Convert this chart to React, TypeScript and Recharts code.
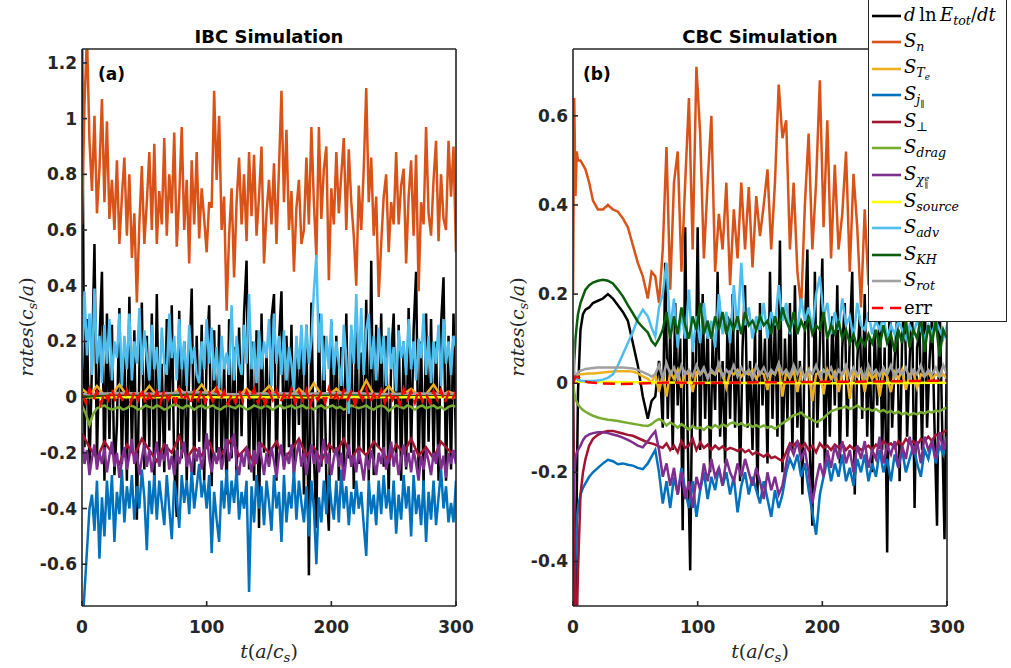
import React from "react";
import { LineChart, Line, XAxis, YAxis } from "recharts";

// ---- time bases ----
const IBC_STEP_FINE = 2; // t = 0, 2, ..., 300
const IBC_STEP = 3; // t = 0, 3, ..., 300
const IBC_STEP_COARSE = 6; // t = 0, 6, ..., 300
const tCbcEarly = [0, 1, 2, 3, 4, 6, 8, 10, 13, 16, 20, 24, 28, 32, 36, 40, 44, 48, 52, 56, 60, 63, 66, 69];
const tCbcLate = Array.from({ length: 77 }, (_, i) => 72 + 3 * i); // 72, 75, ..., 300
const tCbcFine = Array.from({ length: 116 }, (_, i) => 70 + 2 * i); // 70, 72, ..., 300
const tCbc = [...tCbcEarly, ...tCbcLate];

const tTicks = [0, 100, 200, 300];
const ibcYTicks = [-0.6, -0.4, -0.2, 0, 0.2, 0.4, 0.6, 0.8, 1, 1.2];
const cbcYTicks = [-0.4, -0.2, 0, 0.2, 0.4, 0.6];

// ---- IBC simulation (panel a) ----
const ibcDlnE = [ // step 2
  1.3, -0.18, 0.28, -0.26, 0.12, 0.55, -0.22, 0.2, 0.45, -0.3,
  0.3, -0.15, 0.26, -0.28, -0.1, 0.32, -0.24, 0.18, -0.3, 0.36,
  -0.2, 0.24, -0.44, 0.1, 0.34, -0.26, 0.22, -0.18, 0.3, -0.32,
  0.37, -0.2, 0.12, -0.27, 0.28, -0.12, 0.33, -0.25, -0.43, 0.31,
  -0.22, 0.2, -0.3, 0.1, 0.39, -0.28, 0.22, -0.16, 0.26, -0.3,
  0.15, 0.33, -0.32, 0.24, -0.2, 0.26, -0.25, 0.12, -0.35, 0.28,
  -0.22, 0.18, -0.3, 0.25, -0.14, 0.3, 0.49, -0.26, 0.2, -0.3,
  0.24, -0.47, 0.3, -0.2, 0.16, -0.24, 0.28, 0.37, -0.3, 0.2,
  0.38, -0.25, 0.22, -0.18, 0.26, -0.28, 0.2, -0.1, 0.24, -0.35,
  0.26, -0.64, 0.34, -0.2, -0.47, 0.3, -0.25, 0.22, -0.3, -0.48,
  0.27, -0.2, 0.22, -0.3, 0.18, -0.26, 0.3, -0.22, 0.24, -0.33,
  0.28, -0.24, 0.16, -0.2, 0.35, -0.3, 0.49, -0.28, 0.26, -0.18,
  0.3, -0.25, 0.22, -0.36, 0.14, 0.3, -0.22, 0.26, -0.3, 0.2,
  -0.26, 0.32, -0.2, 0.24, 0.45, -0.28, 0.2, -0.32, 0.3, -0.16,
  0.28, -0.22, 0.2, -0.3, 0.26, 0.43, -0.3, 0.22, -0.26, 0.3,
  -0.2,
];
const ibcSn = [ // step 2
  0.62, 1.05, 1.3, 0.92, 0.74, 1.01, 0.66, 0.82, 1.07, 0.7,
  0.99, 0.64, 0.78, 0.6, 0.85, 0.55, 0.72, 0.86, 0.58, 0.8,
  0.5, 0.66, 0.34, 0.62, 0.83, 0.55, 0.7, 0.88, 0.6, 0.91,
  0.55, 0.74, 0.62, 0.93, 0.58, 0.8, 0.66, 0.95, 0.54, 0.72,
  0.97, 0.6, 0.78, 0.48, 0.85, 0.62, 0.88, 0.57, 0.75, 0.64,
  0.52, 0.7, 0.68, 1.1, 0.78, 1.01, 0.6, 0.72, 0.31, 0.58,
  0.75, 0.43, 0.7, 0.86, 0.62, 0.8, 0.56, 0.88, 0.65, 0.87,
  0.58, 0.72, 0.9, 0.48, 0.66, 0.78, 0.62, 0.84, 0.55, 0.82,
  1.1, 0.7, 0.96, 0.6, 0.74, 0.45, 0.68, 0.78, 0.55, 0.6,
  0.86, 0.62, 0.97, 0.7, 0.5, 0.97, 0.64, 0.82, 0.9, 0.42,
  0.75, 0.62, 0.88, 0.66, 0.8, 0.93, 0.6, 0.89, 0.7, 0.58,
  0.4, 0.76, 0.6, 0.82, 1.11, 0.7, 0.86, 0.58, 0.72, 0.36,
  0.55, 0.72, 0.8, 0.52, 0.7, 0.62, 0.88, 0.62, 0.76, 0.82,
  0.48, 0.72, 0.85, 0.58, 0.87, 0.38, 0.7, 0.62, 0.97, 0.66,
  0.58, 0.78, 0.92, 0.56, 0.8, 0.64, 0.6, 0.92, 0.72, 0.9,
  0.52,
];
const ibcTe = [ // step 6
  0.03, 0.005, 0.04, 0.005, 0.01, 0.045, 0.005, 0.01, 0.005, 0.04,
  0.005, 0.01, 0.005, 0.03, 0.005, 0.01, 0.045, 0.005, 0.035, 0.005,
  0.01, 0.005, 0.03, 0.005, 0.01, 0.04, 0.005, 0.01, 0.005, 0.03,
  0.005, 0.05, 0.01, 0.005, 0.03, 0.005, 0.01, 0.005, 0.06, 0.01,
  0.005, 0.04, 0.005, 0.01, 0.03, 0.005, 0.01, 0.045, 0.005, 0.02,
  0.01,
];
const ibcJpar = [ // step 2
  -0.85, -0.7, -0.55, -0.4, -0.35, -0.48, -0.3, -0.58, -0.36, -0.5,
  -0.3, -0.44, -0.28, -0.52, -0.34, -0.42, -0.26, -0.45, -0.32, -0.4,
  -0.28, -0.44, -0.32, -0.4, -0.26, -0.36, -0.55, -0.3, -0.42, -0.28,
  -0.44, -0.3, -0.38, -0.46, -0.28, -0.4, -0.51, -0.3, -0.36, -0.47,
  -0.28, -0.38, -0.3, -0.42, -0.26, -0.4, -0.32, -0.24, -0.36, -0.3,
  -0.4, -0.28, -0.56, -0.34, -0.44, -0.52, -0.3, -0.4, -0.26, -0.42,
  -0.3, -0.38, -0.26, -0.44, -0.34, -0.4, -0.3, -0.7, -0.32, -0.45,
  -0.28, -0.4, -0.32, -0.46, -0.3, -0.38, -0.48, -0.28, -0.4, -0.34,
  -0.52, -0.28, -0.45, -0.34, -0.4, -0.26, -0.44, -0.3, -0.38, -0.45,
  -0.32, -0.5, -0.3, -0.4, -0.6, -0.36, -0.45, -0.3, -0.42, -0.28,
  -0.38, -0.44, -0.3, -0.45, -0.26, -0.4, -0.32, -0.46, -0.34, -0.42,
  -0.3, -0.4, -0.34, -0.46, -0.57, -0.3, -0.42, -0.35, -0.46, -0.3,
  -0.42, -0.28, -0.4, -0.33, -0.44, -0.3, -0.49, -0.35, -0.44, -0.28,
  -0.4, -0.32, -0.5, -0.28, -0.42, -0.35, -0.46, -0.3, -0.52, -0.34,
  -0.44, -0.3, -0.46, -0.36, -0.26, -0.4, -0.32, -0.45, -0.38, -0.45,
  -0.3,
];
const ibcPerp = [ // step 6
  -0.13, -0.18, -0.22, -0.16, -0.2, -0.24, -0.17, -0.21, -0.15, -0.19,
  -0.23, -0.17, -0.2, -0.14, -0.22, -0.18, -0.21, -0.16, -0.23, -0.19,
  -0.15, -0.21, -0.18, -0.24, -0.17, -0.2, -0.16, -0.22, -0.19, -0.15,
  -0.21, -0.18, -0.23, -0.17, -0.2, -0.15, -0.22, -0.18, -0.21, -0.16,
  -0.19, -0.23, -0.17, -0.2, -0.15, -0.21, -0.18, -0.22, -0.16, -0.19,
  -0.21,
];
const ibcDrag = [ // step 3
  -0.03, -0.06, -0.1, -0.06, -0.04, -0.035, -0.03, -0.04, -0.045, -0.04,
  -0.035, -0.045, -0.04, -0.03, -0.035, -0.045, -0.04, -0.03, -0.035, -0.04,
  -0.03, -0.035, -0.045, -0.04, -0.03, -0.025, -0.035, -0.04, -0.03, -0.035,
  -0.045, -0.035, -0.03, -0.04, -0.035, -0.03, -0.04, -0.045, -0.035, -0.03,
  -0.035, -0.04, -0.03, -0.035, -0.045, -0.04, -0.03, -0.035, -0.04, -0.03,
  -0.035, -0.045, -0.035, -0.03, -0.04, -0.035, -0.03, -0.04, -0.035, -0.03,
  -0.04, -0.035, -0.045, -0.035, -0.03, -0.04, -0.035, -0.03, -0.04, -0.035,
  -0.045, -0.04, -0.03, -0.035, -0.04, -0.035, -0.03, -0.04, -0.045, -0.035,
  -0.03, -0.035, -0.05, -0.04, -0.03, -0.035, -0.04, -0.03, -0.035, -0.045,
  -0.035, -0.03, -0.04, -0.035, -0.03, -0.04, -0.035, -0.045, -0.035, -0.03,
  -0.035,
];
const ibcChi = [ // step 2
  -0.14, -0.24, -0.19, -0.28, -0.22, -0.17, -0.26, -0.2, -0.24, -0.18,
  -0.27, -0.21, -0.16, -0.25, -0.2, -0.29, -0.23, -0.18, -0.26, -0.21,
  -0.15, -0.24, -0.2, -0.28, -0.22, -0.17, -0.25, -0.19, -0.27, -0.22,
  -0.16, -0.25, -0.2, -0.23, -0.17, -0.26, -0.21, -0.28, -0.19, -0.24,
  -0.2, -0.16, -0.25, -0.21, -0.27, -0.19, -0.23, -0.18, -0.26, -0.21,
  -0.13, -0.22, -0.27, -0.2, -0.24, -0.18, -0.26, -0.21, -0.15, -0.23,
  -0.19, -0.13, -0.24, -0.28, -0.2, -0.25, -0.18, -0.23, -0.27, -0.19,
  -0.24, -0.16, -0.22, -0.28, -0.2, -0.25, -0.18, -0.23, -0.29, -0.21,
  -0.17, -0.26, -0.2, -0.24, -0.17, -0.27, -0.21, -0.16, -0.25, -0.2,
  -0.28, -0.22, -0.17, -0.24, -0.19, -0.27, -0.21, -0.15, -0.24, -0.2,
  -0.28, -0.22, -0.18, -0.25, -0.2, -0.3, -0.22, -0.17, -0.25, -0.21,
  -0.27, -0.19, -0.24, -0.3, -0.21, -0.26, -0.19, -0.23, -0.28, -0.2,
  -0.24, -0.18, -0.26, -0.21, -0.16, -0.25, -0.2, -0.28, -0.22, -0.17,
  -0.25, -0.2, -0.27, -0.19, -0.24, -0.3, -0.21, -0.26, -0.19, -0.23,
  -0.28, -0.2, -0.24, -0.17, -0.26, -0.21, -0.29, -0.2, -0.24, -0.19,
  -0.24,
];
const ibcSource = [0, 0, 0, 0]; // step 100
const ibcAdv = [ // step 2
  0.1, 0.38, 0.15, 0.3, 0.08, 0.39, 0.12, 0.22, 0.05, 0.26,
  0.12, 0.28, 0.06, 0.2, 0.14, 0.3, 0.04, 0.22, 0.1, 0.3,
  0.06, 0.2, 0.12, 0.32, 0.08, 0.24, 0.15, 0.06, 0.26, 0.1,
  0.18, 0.02, 0.25, 0.12, 0.08, 0.3, 0.14, 0.22, 0.06, 0.28,
  0.1, 0.2, 0.04, 0.26, 0.12, 0.18, 0.08, 0.05, 0.2, 0.1,
  0.28, 0.12, 0.25, 0.06, 0.18, 0.03, 0.22, 0.1, 0.16, 0.08,
  0.33, 0.06, 0.22, 0.12, 0.08, 0.26, 0.12, 0.37, 0.1, 0.2,
  0.05, 0.24, 0.1, 0.2, 0.14, 0.28, 0.04, 0.3, 0.12, 0.22,
  0.08, 0.24, 0.06, 0.18, 0.12, 0.02, 0.22, 0.1, 0.26, 0.08,
  0.26, 0.12, 0.2, 0.38, 0.51, 0.16, 0.3, 0.06, 0.22, 0.1,
  0.28, 0.08, 0.2, 0.12, 0.04, 0.26, 0.14, -0.06, 0.26, 0.12,
  0.37, 0.1, 0.32, 0.08, 0.24, 0.3, 0.1, 0.22, 0.06, 0.25,
  0.12, 0.22, 0.04, 0.25, 0.1, 0.18, 0.02, 0.24, 0.14, 0.2,
  0.08, 0.28, 0.1, 0.2, 0.06, 0.21, 0.14, 0.3, 0.08, 0.22,
  0.05, 0.2, 0.12, 0.26, 0.04, 0.28, 0.12, 0.2, 0.08, 0.22,
  0.18,
];
const ibcKH = [0, 0.01, 0.005, 0.012, 0.008, 0.01, 0.006, 0.011, 0.007, 0.009, 0.008]; // step 30
const ibcRot = [0.01, 0.015, 0.012, 0.018, 0.01, 0.014, 0.012, 0.016, 0.011, 0.013, 0.012]; // step 30
const ibcErr = [ // step 3
  0.01, -0.02, 0.03, -0.01, 0.02, -0.025, 0.015, -0.01, 0.03, -0.02,
  0.01, -0.015, 0.025, -0.02, 0.02, -0.01, 0.03, -0.025, 0.01, -0.015,
  0.02, -0.02, 0.025, -0.01, 0.015, -0.02, 0.03, -0.015, 0.01, -0.025,
  0.02, -0.01, 0.025, -0.02, 0.015, -0.015, 0.03, -0.01, 0.02, -0.025,
  0.01, -0.02, 0.025, -0.015, 0.02, -0.01, 0.03, -0.02, 0.015, -0.025,
  0.02, -0.01, 0.025, -0.02, 0.01, -0.015, 0.03, -0.02, 0.02, -0.01,
  0.025, -0.03, 0.015, -0.01, 0.02, -0.02, 0.03, -0.015, 0.01, -0.02,
  0.025, -0.01, 0.02, -0.025, 0.015, -0.01, 0.03, -0.02, 0.01, -0.015,
  0.025, -0.02, 0.02, -0.01, 0.015, -0.025, 0.03, -0.01, 0.02, -0.02,
  0.025, -0.015, 0.01, -0.02, 0.02, -0.01, 0.025, -0.02, 0.015, -0.01,
  0.02,
];

// ---- CBC simulation (panel b) ----
const cbcDlnEEarly = [ // on tCbcEarly
  0, -0.4, -0.55, -0.25, -0.02, 0.12, 0.155, 0.165, 0.17, 0.18, 0.185, 0.19, 0.2, 0.19, 0.175, 0.16, 0.14, 0.09, 0.04, -0.03, -0.08, -0.04, -0.03, 0.05,
];
const cbcDlnEFine = [ // on tCbcFine
  0.02, -0.1, 0.27, -0.08, 0.12, -0.15, 0.18, -0.05, 0.1, -0.33,
  0.35, -0.12, -0.42, 0.08, -0.1, 0.35, -0.15, 0.2, -0.08, 0.14,
  -0.2, 0.1, -0.06, 0.25, -0.12, 0.05, -0.18, 0.15, -0.08, 0.2,
  -0.1, 0.12, -0.22, 0.08, 0.22, -0.1, 0.05, -0.15, 0.12, -0.25,
  0.18, -0.05, 0.1, -0.18, 0.25, -0.08, 0.15, -0.12, 0.32, -0.2,
  0.1, -0.08, 0.18, -0.15, 0.22, -0.1, 0.05, -0.25, 0.12, 0.3,
  -0.15, -0.32, 0.25, -0.1, 0.08, 0.28, -0.2, 0.1, -0.12, 0.15,
  -0.05, 0.22, -0.18, 0.08, 0.18, -0.12, 0.1, 0.25, -0.25, 0.05,
  0.15, -0.08, 0.2, -0.12, 0.1, -0.2, 0.12, -0.05, 0.18, -0.15,
  0.08, -0.38, 0.22, -0.1, 0.05, 0.15, -0.22, 0.1, 0.2, -0.12,
  0.05, 0.18, -0.28, 0.08, 0.12, -0.15, 0.22, -0.1, 0.05, 0.15,
  -0.1, -0.32, 0.2, -0.08, -0.35, 0.1,
];
const cbcSn = [
  0.2, 0.64, 0.42, 0.52, 0.5, 0.5, 0.49, 0.48, 0.45, 0.41, 0.39, 0.39, 0.4, 0.39, 0.385, 0.37, 0.35, 0.31, 0.27, 0.24, 0.19, 0.25, 0.24, 0.18,
  0.3, 0.53, 0.21, 0.45, 0.52, 0.25, 0.45, 0.64, 0.3, 0.71,
  0.56, 0.28, 0.45, 0.6, 0.25, 0.38, 0.3, 0.45, 0.22, 0.39,
  0.28, 0.45, 0.3, 0.44, 0.26, 0.42, 0.33, 0.4, 0.48, 0.3,
  0.45, 0.67, 0.55, 0.59, 0.3, 0.45, 0.25, 0.17, 0.4, 0.56,
  0.3, 0.45, 0.68, 0.35, 0.59, 0.28, 0.49, 0.3, 0.38, 0.52,
  0.25, 0.47, 0.35, 0.17, 0.39, 0.22, 0.35, 0.15, 0.3, 0.4,
  0.18, 0.33, 0.45, 0.2, 0.38, 0.12, 0.35, 0.42, 0.2, 0.36,
  0.15, 0.4, 0.25, 0.14, 0.38, 0.22, 0.3,
];
const cbcTe = [
  0, 0.01, 0.015, 0.018, 0.02, 0.02, 0.02, 0.021, 0.022, 0.022, 0.023, 0.024, 0.025, 0.026, 0.027, 0.027, 0.027, 0.026, 0.022, 0.015, 0.01, 0, 0.02, -0.02,
  0.02, -0.03, 0.025, 0.01, 0.03, -0.01, 0.025, 0.02, -0.02, 0.025,
  0.02, 0.03, 0.015, 0.025, 0.02, 0.03, 0.02, -0.01, 0.025, 0.02,
  0.03, 0.015, 0.025, 0.02, 0.03, 0.01, 0.025, 0.02, -0.015, 0.025,
  0.02, 0.04, -0.03, 0.025, 0.01, 0.03, -0.02, 0.025, 0.015, 0.03,
  -0.04, 0.02, 0.025, -0.025, 0.03, 0.01, 0.025, -0.02, 0.02, 0.03,
  -0.035, 0.025, 0.015, 0.03, -0.02, 0.025, 0.01, 0.02, -0.03, 0.025,
  0.015, -0.02, 0.025, 0.01, 0.03, -0.015, 0.02, 0.025, -0.01, 0.02,
  0.015, 0.025, 0.01, 0.02, 0.015, 0.02, 0.01,
];
const cbcJpar = [
  -0.55, -0.52, -0.4, -0.31, -0.28, -0.25, -0.235, -0.225, -0.21, -0.2, -0.19, -0.18, -0.172, -0.175, -0.182, -0.18, -0.183, -0.185, -0.19, -0.193, -0.18, -0.165, -0.15, -0.2,
  -0.27, -0.22, -0.28, -0.21, -0.25, -0.19, -0.24, -0.28, -0.22, -0.3,
  -0.24, -0.2, -0.26, -0.21, -0.24, -0.19, -0.23, -0.2, -0.25, -0.21,
  -0.29, -0.23, -0.2, -0.25, -0.21, -0.24, -0.27, -0.22, -0.26, -0.3,
  -0.24, -0.28, -0.25, -0.2, -0.17, -0.19, -0.16, -0.21, -0.18, -0.24,
  -0.29, -0.34, -0.25, -0.21, -0.17, -0.22, -0.18, -0.21, -0.16, -0.22,
  -0.19, -0.23, -0.17, -0.2, -0.16, -0.22, -0.18, -0.21, -0.15, -0.2,
  -0.17, -0.22, -0.16, -0.19, -0.15, -0.2, -0.17, -0.14, -0.18, -0.21,
  -0.15, -0.17, -0.13, -0.18, -0.14, -0.16, -0.12,
];
const cbcPerp = [
  -0.02, -0.3, -0.55, -0.55, -0.42, -0.25, -0.2, -0.17, -0.14, -0.125, -0.116, -0.11, -0.107, -0.107, -0.11, -0.113, -0.116, -0.118, -0.123, -0.128, -0.133, -0.135, -0.138, -0.142,
  -0.145, -0.135, -0.15, -0.14, -0.155, -0.13, -0.145, -0.14, -0.125, -0.15,
  -0.133, -0.145, -0.138, -0.15, -0.14, -0.148, -0.142, -0.15, -0.145, -0.148,
  -0.152, -0.147, -0.155, -0.15, -0.16, -0.155, -0.16, -0.165, -0.158, -0.168,
  -0.165, -0.17, -0.175, -0.155, -0.135, -0.14, -0.13, -0.145, -0.135, -0.15,
  -0.14, -0.155, -0.135, -0.145, -0.14, -0.15, -0.138, -0.145, -0.135, -0.15,
  -0.14, -0.148, -0.142, -0.15, -0.145, -0.14, -0.15, -0.138, -0.145, -0.13,
  -0.14, -0.135, -0.145, -0.13, -0.14, -0.125, -0.135, -0.13, -0.14, -0.125,
  -0.13, -0.12, -0.13, -0.115, -0.12, -0.11, -0.105,
];
const cbcDrag = [
  0, -0.02, -0.035, -0.042, -0.048, -0.055, -0.06, -0.064, -0.069, -0.073, -0.077, -0.08, -0.082, -0.083, -0.085, -0.087, -0.089, -0.091, -0.093, -0.095, -0.096, -0.092, -0.085, -0.08,
  -0.085, -0.095, -0.088, -0.093, -0.1, -0.092, -0.098, -0.104, -0.096, -0.102,
  -0.099, -0.105, -0.097, -0.101, -0.094, -0.1, -0.092, -0.097, -0.09, -0.088,
  -0.094, -0.09, -0.096, -0.092, -0.098, -0.094, -0.099, -0.095, -0.1, -0.097,
  -0.102, -0.096, -0.09, -0.085, -0.078, -0.072, -0.07, -0.066, -0.074, -0.078,
  -0.082, -0.088, -0.084, -0.078, -0.07, -0.063, -0.06, -0.057, -0.055, -0.052,
  -0.058, -0.055, -0.05, -0.056, -0.06, -0.057, -0.062, -0.058, -0.064, -0.06,
  -0.066, -0.062, -0.068, -0.064, -0.07, -0.066, -0.072, -0.067, -0.07, -0.065,
  -0.068, -0.063, -0.066, -0.061, -0.064, -0.058, -0.055,
];
const cbcChi = [
  -0.3, -0.21, -0.17, -0.155, -0.15, -0.14, -0.128, -0.12, -0.115, -0.112, -0.11, -0.11, -0.112, -0.115, -0.118, -0.122, -0.127, -0.133, -0.14, -0.144, -0.13, -0.118, -0.108, -0.15,
  -0.21, -0.18, -0.23, -0.19, -0.25, -0.2, -0.26, -0.22, -0.28, -0.21,
  -0.24, -0.18, -0.22, -0.17, -0.21, -0.19, -0.23, -0.17, -0.2, -0.22,
  -0.18, -0.21, -0.17, -0.2, -0.23, -0.19, -0.22, -0.26, -0.2, -0.24,
  -0.21, -0.25, -0.23, -0.18, -0.14, -0.16, -0.13, -0.17, -0.15, -0.2,
  -0.27, -0.22, -0.18, -0.21, -0.15, -0.19, -0.14, -0.17, -0.13, -0.18,
  -0.15, -0.2, -0.14, -0.17, -0.13, -0.19, -0.15, -0.17, -0.12, -0.18,
  -0.14, -0.16, -0.13, -0.19, -0.14, -0.17, -0.12, -0.16, -0.13, -0.18,
  -0.12, -0.15, -0.13, -0.17, -0.11, -0.15, -0.12,
];
const tCbcSource = [0, 100, 200, 300];
const cbcSource = [0.003, 0.001, 0, 0.001];
const cbcAdv = [
  0.05, 0.02, 0.01, 0.01, 0.008, 0.006, 0.005, 0.005, 0.005, 0.005, 0.006, 0.008, 0.012, 0.02, 0.04, 0.065, 0.09, 0.115, 0.145, 0.165, 0.15, 0.125, 0.105, 0.17,
  0.2, 0.27, 0.12, 0.19, 0.08, 0.16, 0.1, 0.21, 0.07, 0.15,
  0.09, 0.18, 0.1, 0.14, 0.08, 0.2, 0.11, 0.16, 0.09, 0.22,
  0.12, 0.27, 0.13, 0.17, 0.1, 0.15, 0.12, 0.18, 0.1, 0.16,
  0.13, 0.22, 0.14, 0.18, 0.11, 0.15, 0.12, 0.19, 0.14, 0.17,
  0.12, 0.2, 0.24, 0.15, 0.18, 0.11, 0.16, 0.12, 0.19, 0.13,
  0.15, 0.1, 0.18, 0.13, 0.12, 0.16, 0.11, 0.14, 0.12, 0.15,
  0.1, 0.13, 0.11, 0.14, 0.12, 0.1, 0.13, 0.11, 0.14, 0.12,
  0.1, 0.13, 0.11, 0.14, 0.12, 0.1, 0.13,
];
const cbcKH = [
  0, 0.05, 0.1, 0.13, 0.155, 0.18, 0.195, 0.21, 0.22, 0.226, 0.23, 0.232, 0.23, 0.224, 0.21, 0.195, 0.175, 0.157, 0.138, 0.125, 0.114, 0.095, 0.085, 0.1,
  0.12, 0.16, 0.1, 0.15, 0.11, 0.17, 0.13, 0.1, 0.15, 0.12,
  0.18, 0.11, 0.14, 0.1, 0.15, 0.12, 0.16, 0.11, 0.14, 0.12,
  0.15, 0.11, 0.16, 0.13, 0.14, 0.12, 0.15, 0.13, 0.14, 0.11,
  0.15, 0.12, 0.17, 0.14, 0.12, 0.16, 0.11, 0.14, 0.12, 0.15,
  0.11, 0.13, 0.12, 0.16, 0.1, 0.13, 0.11, 0.14, 0.1, 0.12,
  0.09, 0.11, 0.08, 0.1, 0.085, 0.11, 0.09, 0.12, 0.08, 0.13,
  0.09, 0.11, 0.07, 0.12, 0.09, 0.14, 0.08, 0.12, 0.1, 0.15,
  0.07, 0.13, 0.09, 0.14, 0.06, 0.12, 0.1,
];
const cbcRot = [
  0.1, 0.02, 0.015, 0.02, 0.025, 0.028, 0.03, 0.032, 0.033, 0.034, 0.035, 0.035, 0.035, 0.035, 0.035, 0.035, 0.034, 0.033, 0.03, 0.025, 0.02, 0.015, 0.02, 0.04,
  0.01, 0.045, 0.02, 0.035, 0.01, 0.04, 0.02, 0.03, 0.015, 0.04,
  0.02, 0.035, 0.01, 0.03, 0.02, 0.045, 0.015, 0.03, 0.02, 0.04,
  0.015, 0.035, 0.02, 0.03, 0.01, 0.04, 0.02, 0.035, 0.015, 0.03,
  0.02, 0.045, 0.02, 0.03, 0.015, 0.04, 0.02, 0.035, 0.01, 0.03,
  0.02, 0.04, 0.015, 0.03, 0.02, 0.035, 0.01, 0.03, 0.02, 0.04,
  0.015, 0.035, 0.02, 0.03, 0.01, 0.04, 0.02, 0.03, 0.015, 0.035,
  0.02, 0.04, 0.015, 0.03, 0.02, 0.035, 0.01, 0.03, 0.02, 0.04,
  0.015, 0.03, 0.02, 0.035, 0.015, 0.04, 0.02,
];
const tCbcErr = [0, 2, 5, 8, 12, 20, 40, 60, 80, 100, 150, 200, 250, 300];
const cbcErr = [0, 0.015, 0.012, 0.006, 0.002, 0, -0.002, 0, 0.002, 0, 0.002, 0.003, 0.004, 0.006];

// ---- styling ----
const INK = "#262626";
const C = {
  dlnE: "#000000",
  sn: "#D95319",
  te: "#EDB120",
  jpar: "#0072BD",
  perp: "#A2142F",
  drag: "#77AC30",
  chi: "#7E2F8E",
  source: "#FFFF00",
  adv: "#4DBEEE",
  kh: "#0B5C0B",
  rot: "#A0A0A0",
  err: "#FF0000",
};
const ERR_DASH = "12 6";

type Pt = { t: number; v: number };
type Trace = { key: string; color: string; pts: Pt[]; dash?: string };

const onStep = (vals: number[], step: number): Pt[] => vals.map((v, i) => ({ t: i * step, v }));
const onTimes = (times: number[], vals: number[]): Pt[] => vals.map((v, i) => ({ t: times[i], v }));

const ibcTraces: Trace[] = [
  { key: "dlnE", color: C.dlnE, pts: onStep(ibcDlnE, IBC_STEP_FINE) },
  { key: "sn", color: C.sn, pts: onStep(ibcSn, IBC_STEP_FINE) },
  { key: "te", color: C.te, pts: onStep(ibcTe, IBC_STEP_COARSE) },
  { key: "jpar", color: C.jpar, pts: onStep(ibcJpar, IBC_STEP_FINE) },
  { key: "perp", color: C.perp, pts: onStep(ibcPerp, IBC_STEP_COARSE) },
  { key: "drag", color: C.drag, pts: onStep(ibcDrag, IBC_STEP) },
  { key: "chi", color: C.chi, pts: onStep(ibcChi, IBC_STEP_FINE) },
  { key: "source", color: C.source, pts: onStep(ibcSource, 100) },
  { key: "adv", color: C.adv, pts: onStep(ibcAdv, IBC_STEP_FINE) },
  { key: "kh", color: C.kh, pts: onStep(ibcKH, 30) },
  { key: "rot", color: C.rot, pts: onStep(ibcRot, 30) },
  { key: "err", color: C.err, pts: onStep(ibcErr, IBC_STEP), dash: ERR_DASH },
];

const cbcTraces: Trace[] = [
  { key: "dlnE", color: C.dlnE, pts: [...onTimes(tCbcEarly, cbcDlnEEarly), ...onTimes(tCbcFine, cbcDlnEFine)] },
  { key: "sn", color: C.sn, pts: onTimes(tCbc, cbcSn) },
  { key: "te", color: C.te, pts: onTimes(tCbc, cbcTe) },
  { key: "jpar", color: C.jpar, pts: onTimes(tCbc, cbcJpar) },
  { key: "perp", color: C.perp, pts: onTimes(tCbc, cbcPerp) },
  { key: "drag", color: C.drag, pts: onTimes(tCbc, cbcDrag) },
  { key: "chi", color: C.chi, pts: onTimes(tCbc, cbcChi) },
  { key: "source", color: C.source, pts: onTimes(tCbcSource, cbcSource) },
  { key: "adv", color: C.adv, pts: onTimes(tCbc, cbcAdv) },
  { key: "kh", color: C.kh, pts: onTimes(tCbc, cbcKH) },
  { key: "rot", color: C.rot, pts: onTimes(tCbc, cbcRot) },
  { key: "err", color: C.err, pts: onTimes(tCbcErr, cbcErr), dash: ERR_DASH },
];

const Sub = ({ children }: { children: React.ReactNode }) => (
  <span style={{ fontSize: "0.7em", position: "relative", top: "0.32em" }}>{children}</span>
);
// stacked super/subscript (e over ∥)
const Stack = ({ up, down }: { up: React.ReactNode; down: React.ReactNode }) => (
  <span style={{ display: "inline-flex", flexDirection: "column", fontSize: "0.62em", lineHeight: 0.9, verticalAlign: "0.35em", marginLeft: "0.08em" }}>
    <span>{up}</span>
    <span>{down}</span>
  </span>
);

const legendItems: { color: string; dash?: boolean; label: React.ReactNode }[] = [
  { color: C.dlnE, label: <><i>d</i>&thinsp;ln&thinsp;<i>E</i><Sub><i>tot</i></Sub>/<i>dt</i></> },
  { color: C.sn, label: <><i>S</i><Sub><i>n</i></Sub></> },
  { color: C.te, label: <><i>S</i><Sub><i>T</i><Sub><i>e</i></Sub></Sub></> },
  { color: C.jpar, label: <><i>S</i><Sub><i>j</i><Sub>∥</Sub></Sub></> },
  { color: C.perp, label: <><i>S</i><Sub>⊥</Sub></> },
  { color: C.drag, label: <><i>S</i><Sub><i>drag</i></Sub></> },
  { color: C.chi, label: <><i>S</i><Sub><i>χ</i><Stack up={<i>e</i>} down="∥" /></Sub></> },
  { color: C.source, label: <><i>S</i><Sub><i>source</i></Sub></> },
  { color: C.adv, label: <><i>S</i><Sub><i>adv</i></Sub></> },
  { color: C.kh, label: <><i>S</i><Sub><i>KH</i></Sub></> },
  { color: C.rot, label: <><i>S</i><Sub><i>rot</i></Sub></> },
  { color: C.err, dash: true, label: <>err</> },
];

const tickFont = { fill: INK, fontSize: 17, fontWeight: 700, fontFamily: "'DejaVu Sans', sans-serif" };
const axisStroke = { stroke: INK, strokeWidth: 1.6 };

function Panel({
  left, title, tag, tagLeft, traces, yDomain, yTicks,
}: {
  left: number; title: string; tag: string; tagLeft: number; traces: Trace[];
  yDomain: [number, number]; yTicks: number[];
}) {
  return (
    <div style={{ position: "absolute", left, top: 0, width: 490, height: 668 }}>
      <LineChart width={490} height={668} margin={{ top: 48, right: 33, bottom: 0, left: 0 }}>
        <XAxis
          dataKey="t" type="number" domain={[0, 300]} ticks={tTicks} allowDataOverflow interval={0}
          height={62} axisLine={axisStroke} tickLine={axisStroke} tickSize={-5} tickMargin={20} tick={tickFont}
        />
        <XAxis
          xAxisId="top" orientation="top" dataKey="t" type="number" domain={[0, 300]} ticks={tTicks}
          height={1} axisLine={axisStroke} tickLine={axisStroke} tickSize={-5} tick={false}
        />
        <YAxis
          type="number" domain={yDomain} ticks={yTicks} allowDataOverflow interval={0} width={82}
          axisLine={axisStroke} tickLine={axisStroke} tickSize={-5} tickMargin={10} tick={tickFont}
          tickFormatter={(v: number) => String(v)}
        />
        <YAxis
          yAxisId="r" orientation="right" type="number" domain={yDomain} ticks={yTicks} width={1}
          axisLine={axisStroke} tickLine={axisStroke} tickSize={-5} tick={false}
        />
        {traces.map((tr) => (
          <Line
            key={tr.key}
            data={tr.pts}
            dataKey="v"
            type="linear"
            stroke={tr.color}
            strokeWidth={2.5}
            strokeDasharray={tr.dash}
            dot={false}
            activeDot={false}
            isAnimationActive={false}
          />
        ))}
      </LineChart>
      <div style={{ position: "absolute", left: 82, width: 374, top: 28, textAlign: "center", font: "bold 18px 'DejaVu Sans', sans-serif", lineHeight: "18px", color: "#000", whiteSpace: "nowrap" }}>
        {title}
      </div>
      <div style={{ position: "absolute", left: tagLeft, top: 64, font: "bold 17px 'DejaVu Sans', sans-serif", lineHeight: "20px", color: "#000" }}>
        {tag}
      </div>
      <div style={{ position: "absolute", left: 26, top: 327, transform: "translate(-50%, -50%) rotate(-90deg)", font: "19px 'DejaVu Serif', serif", color: INK, whiteSpace: "nowrap" }}>
        <i>rates</i>(<i>c</i><Sub><i>s</i></Sub>/<i>a</i>)
      </div>
      <div style={{ position: "absolute", left: 269, top: 651, transform: "translate(-50%, -50%)", font: "19px 'DejaVu Serif', serif", color: INK, whiteSpace: "nowrap" }}>
        <i>t</i>(<i>a</i>/<i>c</i><Sub><i>s</i></Sub>)
      </div>
    </div>
  );
}

function Legend() {
  return (
    <>
      <div style={{ position: "absolute", left: 868, top: -2, width: 139, height: 324, boxSizing: "border-box", border: `1.6px solid ${INK}`, background: "#fff" }} />
      {legendItems.map((it, i) => {
        const cy = 15.7 + 26.55 * i;
        return (
          <div key={i} style={{ position: "absolute", left: 872, top: cy - 13, height: 26, display: "flex", alignItems: "center", whiteSpace: "nowrap" }}>
            <svg width={30} height={6} style={{ display: "block" }}>
              <line x1={0} x2={29} y1={3} y2={3} stroke={it.color} strokeWidth={2.6} strokeDasharray={it.dash ? "11 7" : undefined} />
            </svg>
            <span style={{ marginLeft: 2, font: "18px 'DejaVu Serif', serif", lineHeight: "26px", color: "#000" }}>{it.label}</span>
          </div>
        );
      })}
    </>
  );
}

export default function App() {
  return (
    <div style={{ position: "absolute", left: 0, top: 0, width: 1011, height: 668, background: "#fff", overflow: "hidden" }}>
      <Panel left={0} title="IBC Simulation" tag="(a)" tagLeft={98} traces={ibcTraces} yDomain={[-0.75, 1.25]} yTicks={ibcYTicks} />
      <Panel left={491} title="CBC Simulation" tag="(b)" tagLeft={92} traces={cbcTraces} yDomain={[-0.5, 0.75]} yTicks={cbcYTicks} />
      <Legend />
    </div>
  );
}
